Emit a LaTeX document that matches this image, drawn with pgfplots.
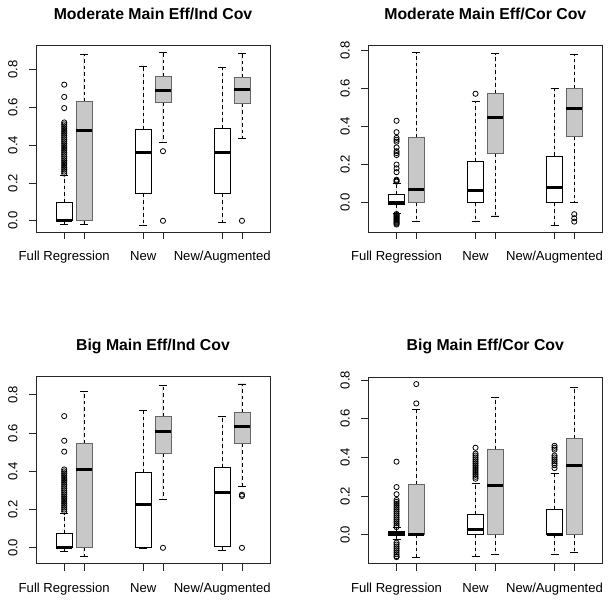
\documentclass[border=0pt]{standalone}
\usepackage{pgfplots}
\pgfplotsset{compat=1.18}
\usepgfplotslibrary{statistics}
\usepackage{fontspec}
\setmainfont{Liberation Sans}
\definecolor{grayfill}{HTML}{C8C8C8}
\begin{document}
\begin{tikzpicture}
\useasboundingbox (0bp,0bp) rectangle (611bp,603bp);
\pgfplotsset{
  rbox/.style={
    scale only axis, width=234bp, height=186.6bp,
    anchor=south west,
    xmin=-0.43, xmax=11.42,
    xtick={1,2,5,6,9,10},
    xticklabels={Full Regression,,New,,New/Augmented,},
    ytick={0,0.2,0.4,0.6,0.8},
    tick align=outside, major tick length=7bp,
    xtick pos=bottom, ytick pos=left,
    axis line style={line width=0.8bp, black!85},
    every tick/.style={line width=0.8bp, black!85},
    yticklabel style={rotate=90, anchor=base, inner sep=0pt, font=\fontsize{13.1bp}{15bp}\selectfont},
    yticklabel shift=11.7bp,
    xticklabel style={anchor=base, inner sep=0pt, font=\fontsize{13.1bp}{15bp}\selectfont},
    xticklabel shift=21.7bp,
    title style={at={(0.5,1)}, anchor=base, yshift=20.2bp, inner sep=0pt, font=\bfseries\fontsize{15.8bp}{18bp}\selectfont},
    /pgf/number format/fixed, /pgf/number format/fixed zerofill, /pgf/number format/precision=1,
    /pgf/number format/assume math mode=true,
    boxplot/draw direction=y,
    boxplot/box extend=0.81,
    boxplot/whisker extend=0.405,
    boxplot/every median/.style={line width=3bp, draw=black},
    boxplot/draw/lower whisker/.code={%
      \draw[black, line width=0.8bp, dash pattern=on 3.5bp off 3bp] (boxplot cs:\pgfplotsboxplotvalue{lower quartile}) -- (boxplot cs:\pgfplotsboxplotvalue{lower whisker});
      \draw[black, line width=0.8bp, solid] (boxplot whisker cs:\pgfplotsboxplotvalue{lower whisker},0) -- (boxplot whisker cs:\pgfplotsboxplotvalue{lower whisker},1);
    },
    boxplot/draw/upper whisker/.code={%
      \draw[black, line width=0.8bp, dash pattern=on 3.5bp off 3bp] (boxplot cs:\pgfplotsboxplotvalue{upper quartile}) -- (boxplot cs:\pgfplotsboxplotvalue{upper whisker});
      \draw[black, line width=0.8bp, solid] (boxplot whisker cs:\pgfplotsboxplotvalue{upper whisker},0) -- (boxplot whisker cs:\pgfplotsboxplotvalue{upper whisker},1);
    },
  },
  wbox/.style={draw=black, fill=white, line width=0.8bp, mark=o, mark size=2.6bp, mark options={solid, draw=black, line width=0.8bp}},
  gbox/.style={draw=black!60, fill=grayfill, line width=0.8bp, mark=o, mark size=2.6bp, mark options={solid, draw=black, line width=0.8bp}},
}

% ---------- Panel 1 ----------
\begin{axis}[rbox, at={(36bp,370.7bp)}, ymin=-0.061, ymax=0.926, title={Moderate Main Eff/Ind Cov}]
\addplot[wbox, boxplot prepared={draw position=1, lower whisker=-0.019, lower quartile=0, median=0, upper quartile=0.097, upper whisker=0.241}]
  table[row sep=\\, y index=0] {y\\ 0.25\\ 0.26\\ 0.27\\ 0.28\\ 0.29\\ 0.30\\ 0.31\\ 0.32\\ 0.33\\ 0.34\\ 0.35\\ 0.36\\ 0.37\\ 0.38\\ 0.39\\ 0.40\\ 0.41\\ 0.42\\ 0.43\\ 0.44\\ 0.45\\ 0.46\\ 0.47\\ 0.48\\ 0.49\\ 0.50\\ 0.51\\ 0.52\\ 0.596\\ 0.655\\ 0.72\\};
\addplot[gbox, boxplot prepared={draw position=2, lower whisker=-0.019, lower quartile=0.004, median=0.479, upper quartile=0.629, upper whisker=0.878}] coordinates {};
\addplot[wbox, boxplot prepared={draw position=5, lower whisker=-0.023, lower quartile=0.143, median=0.359, upper quartile=0.483, upper whisker=0.816}] coordinates {};
\addplot[gbox, boxplot prepared={draw position=6, lower whisker=0.414, lower quartile=0.624, median=0.691, upper quartile=0.765, upper whisker=0.888}]
  table[row sep=\\, y index=0] {y\\ 0.368\\ 0.0\\};
\addplot[wbox, boxplot prepared={draw position=9, lower whisker=-0.011, lower quartile=0.144, median=0.359, upper quartile=0.488, upper whisker=0.812}] coordinates {};
\addplot[gbox, boxplot prepared={draw position=10, lower whisker=0.435, lower quartile=0.620, median=0.696, upper quartile=0.759, upper whisker=0.883}]
  table[row sep=\\, y index=0] {y\\ 0.0\\};
\end{axis}

% ---------- Panel 2 ----------
\begin{axis}[rbox, at={(368.3bp,370.7bp)}, ymin=-0.156, ymax=0.8245, title={Moderate Main Eff/Cor Cov}]
\addplot[wbox, boxplot prepared={draw position=1, lower whisker=-0.056, lower quartile=-0.009, median=0, upper quartile=0.042, upper whisker=0.10}]
  table[row sep=\\, y index=0] {y\\ 0.11\\ 0.115\\ 0.12\\ 0.16\\ 0.18\\ 0.20\\ 0.25\\ 0.26\\ 0.27\\ 0.29\\ 0.32\\ 0.33\\ 0.34\\ 0.37\\ 0.43\\ -0.06\\ -0.065\\ -0.07\\ -0.075\\ -0.08\\ -0.085\\ -0.09\\ -0.095\\ -0.10\\ -0.105\\ -0.11\\ -0.115\\};
\addplot[gbox, boxplot prepared={draw position=2, lower whisker=-0.10, lower quartile=0, median=0.07, upper quartile=0.34, upper whisker=0.788}] coordinates {};
\addplot[wbox, boxplot prepared={draw position=5, lower whisker=-0.10, lower quartile=0, median=0.065, upper quartile=0.215, upper whisker=0.53}]
  table[row sep=\\, y index=0] {y\\ 0.572\\};
\addplot[gbox, boxplot prepared={draw position=6, lower whisker=-0.07, lower quartile=0.259, median=0.445, upper quartile=0.574, upper whisker=0.782}] coordinates {};
\addplot[wbox, boxplot prepared={draw position=9, lower whisker=-0.119, lower quartile=0, median=0.079, upper quartile=0.245, upper whisker=0.60}] coordinates {};
\addplot[gbox, boxplot prepared={draw position=10, lower whisker=0.0, lower quartile=0.348, median=0.494, upper quartile=0.602, upper whisker=0.777}]
  table[row sep=\\, y index=0] {y\\ -0.061\\ -0.082\\ -0.10\\};
\end{axis}

% ---------- Panel 3 ----------
\begin{axis}[rbox, at={(36bp,39.5bp)}, ymin=-0.082, ymax=0.894, title={Big Main Eff/Ind Cov}]
\addplot[wbox, boxplot prepared={draw position=1, lower whisker=-0.021, lower quartile=0, median=0.003, upper quartile=0.073, upper whisker=0.179}]
  table[row sep=\\, y index=0] {y\\ 0.19\\ 0.20\\ 0.21\\ 0.22\\ 0.23\\ 0.24\\ 0.25\\ 0.26\\ 0.27\\ 0.28\\ 0.29\\ 0.30\\ 0.31\\ 0.32\\ 0.33\\ 0.34\\ 0.35\\ 0.36\\ 0.37\\ 0.38\\ 0.39\\ 0.40\\ 0.41\\ 0.503\\ 0.56\\ 0.689\\};
\addplot[gbox, boxplot prepared={draw position=2, lower whisker=-0.045, lower quartile=0, median=0.409, upper quartile=0.548, upper whisker=0.819}] coordinates {};
\addplot[wbox, boxplot prepared={draw position=5, lower whisker=-0.005, lower quartile=0, median=0.228, upper quartile=0.395, upper whisker=0.718}] coordinates {};
\addplot[gbox, boxplot prepared={draw position=6, lower whisker=0.254, lower quartile=0.494, median=0.607, upper quartile=0.689, upper whisker=0.850}]
  table[row sep=\\, y index=0] {y\\ 0.0\\};
\addplot[wbox, boxplot prepared={draw position=9, lower whisker=-0.014, lower quartile=0.009, median=0.29, upper quartile=0.421, upper whisker=0.685}] coordinates {};
\addplot[gbox, boxplot prepared={draw position=10, lower whisker=0.323, lower quartile=0.544, median=0.635, upper quartile=0.708, upper whisker=0.857}]
  table[row sep=\\, y index=0] {y\\ 0.278\\ 0.271\\ 0.0\\};
\end{axis}

% ---------- Panel 4 ----------
\begin{axis}[rbox, at={(368.3bp,39.5bp)}, ymin=-0.148, ymax=0.816, title={Big Main Eff/Cor Cov}]
\addplot[wbox, boxplot prepared={draw position=1, lower whisker=-0.024, lower quartile=-0.005, median=0.009, upper quartile=0.019, upper whisker=0.036}]
  table[row sep=\\, y index=0] {y\\ 0.04\\ 0.05\\ 0.06\\ 0.07\\ 0.08\\ 0.09\\ 0.10\\ 0.11\\ 0.12\\ 0.13\\ 0.14\\ 0.15\\ 0.16\\ 0.17\\ 0.18\\ 0.21\\ 0.247\\ 0.378\\ -0.04\\ -0.05\\ -0.06\\ -0.07\\ -0.08\\ -0.09\\ -0.10\\ -0.11\\ -0.115\\};
\addplot[gbox, boxplot prepared={draw position=2, lower whisker=-0.116, lower quartile=0, median=0.002, upper quartile=0.262, upper whisker=0.647}]
  table[row sep=\\, y index=0] {y\\ 0.679\\ 0.779\\};
\addplot[wbox, boxplot prepared={draw position=5, lower whisker=-0.112, lower quartile=0, median=0.029, upper quartile=0.105, upper whisker=0.267}]
  table[row sep=\\, y index=0] {y\\ 0.29\\ 0.30\\ 0.31\\ 0.32\\ 0.33\\ 0.34\\ 0.35\\ 0.36\\ 0.37\\ 0.38\\ 0.39\\ 0.40\\ 0.41\\ 0.42\\ 0.45\\};
\addplot[gbox, boxplot prepared={draw position=6, lower whisker=-0.10, lower quartile=0, median=0.253, upper quartile=0.443, upper whisker=0.709}] coordinates {};
\addplot[wbox, boxplot prepared={draw position=9, lower whisker=-0.103, lower quartile=0, median=0.003, upper quartile=0.131, upper whisker=0.317}]
  table[row sep=\\, y index=0] {y\\ 0.345\\ 0.36\\ 0.37\\ 0.38\\ 0.39\\ 0.40\\ 0.41\\ 0.44\\ 0.45\\ 0.46\\};
\addplot[gbox, boxplot prepared={draw position=10, lower whisker=-0.09, lower quartile=0, median=0.359, upper quartile=0.498, upper whisker=0.762}] coordinates {};
\end{axis}
\end{tikzpicture}
\end{document}
